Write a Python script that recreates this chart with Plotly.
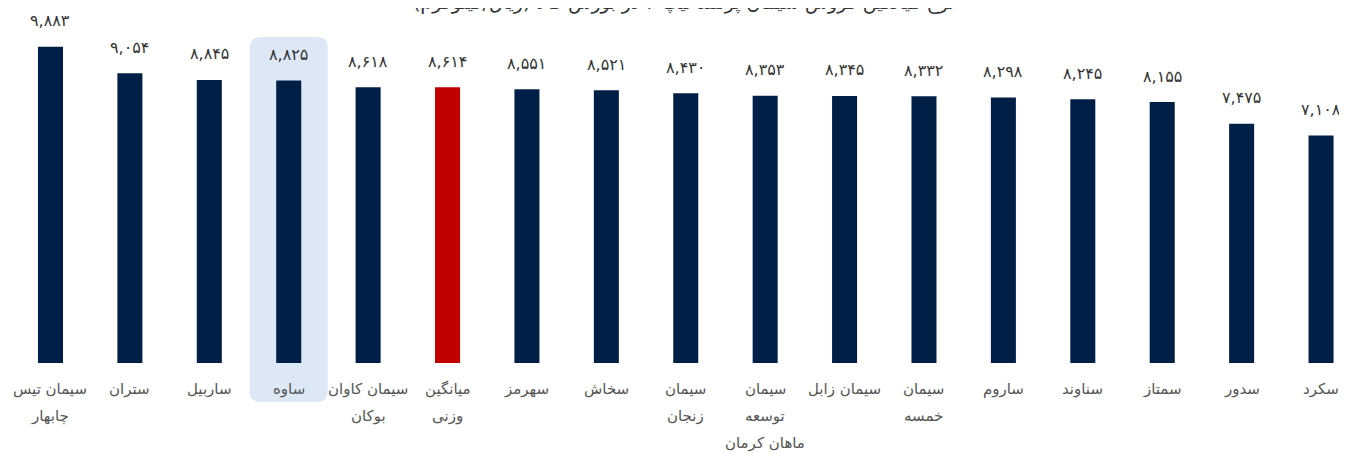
import plotly.graph_objects as go

categories = [
    "سیمان تیس<br>چابهار", "ستران", "ساربیل", "ساوه", "سیمان کاوان<br>بوکان",
    "میانگین<br>وزنی", "سهرمز", "سخاش", "سیمان<br>زنجان", "سیمان<br>توسعه<br>ماهان کرمان",
    "سیمان زابل", "سیمان<br>خمسه", "ساروم", "سناوند", "سمتاز", "سدور", "سکرد",
]
values = [9883, 9054, 8845, 8825, 8618, 8614, 8551, 8521, 8430, 8353,
          8345, 8332, 8298, 8245, 8155, 7475, 7108]
highlight_index = 3
average_index = 5
title_text = "نرخ میانگین فروش سیمان پرتلند تیپ ۲ در بورس کالا (ریال/کیلوگرم)"

PERSIAN = str.maketrans("0123456789", "۰۱۲۳۴۵۶۷۸۹")


def fa(n):
    return f"{n:,}".translate(PERSIAN)


NAVY = "#001f47"
RED = "#c00000"
FONT = "DejaVu Sans"

xs = list(range(len(categories)))
colors = [RED if i == average_index else NAVY for i in xs]

fig = go.Figure()
fig.add_trace(go.Bar(
    x=xs, y=values, marker=dict(color=colors, line=dict(width=0)),
    width=0.315, hoverinfo="skip",
))

for i, v in zip(xs, values):
    fig.add_annotation(x=i, y=v, text=fa(v), showarrow=False, yanchor="middle",
                       yshift=26, font=dict(family=FONT, size=16, color="#333333"))

# category labels, one annotation per line for looser line spacing
for i, cat in zip(xs, categories):
    for k, line in enumerate(cat.split("<br>")):
        fig.add_annotation(x=i, y=0, text=line,
                           showarrow=False, yanchor="middle", yshift=-26 - 27 * k,
                           font=dict(family=FONT, size=15, color="#555555"))

# highlight rounded box behind "ساوه"
r = 11
x0, x1, y0, y1 = -39, 39, -39, 326
path = (f"M {x0+r},{y0} L {x1-r},{y0} Q {x1},{y0} {x1},{y0+r} "
        f"L {x1},{y1-r} Q {x1},{y1} {x1-r},{y1} L {x0+r},{y1} Q {x0},{y1} {x0},{y1-r} "
        f"L {x0},{y0+r} Q {x0},{y0} {x0+r},{y0} Z")
fig.add_shape(type="path", xref="x", yref="y", xsizemode="pixel", ysizemode="pixel",
              xanchor=highlight_index, yanchor=0, path=path,
              fillcolor="#dce8f5", line=dict(width=0), layer="below")

fig.add_annotation(xref="paper", yref="paper", x=0.505, y=1.0, yshift=8, text=title_text,
                   showarrow=False, yanchor="middle",
                   font=dict(family=FONT, size=19, color="#333333"))

fig.update_layout(
    width=1339, height=445,
    margin=dict(l=0, r=0, t=2, b=51),
    paper_bgcolor="white", plot_bgcolor="rgba(0,0,0,0)",
    showlegend=False,
    xaxis=dict(range=[-0.535, 16.327], showticklabels=False,
               showgrid=False, zeroline=False, showline=False, ticks="", fixedrange=True),
    yaxis=dict(range=[-1219, 11030], visible=False, fixedrange=True),
)

fig.write_html("out.html")
